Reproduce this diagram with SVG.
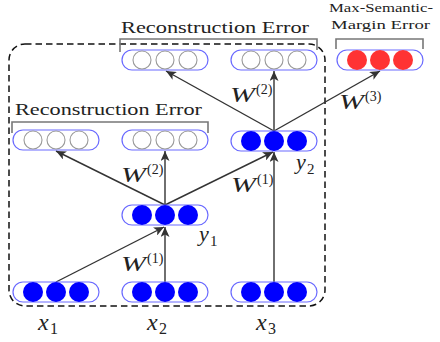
<svg xmlns="http://www.w3.org/2000/svg" width="440" height="342" viewBox="0 0 440 342">
<style>
.cap{fill:#fff;stroke:#6a6aff;stroke-width:1.2}
.on{fill:#0000ff}
.off{fill:#fff;stroke:#999;stroke-width:1.1}
.red{fill:#ff3333}
.br{fill:none;stroke:#777;stroke-width:1.6}
.cn line{stroke:#333;stroke-width:1.4;marker-end:url(#ah)}
</style>
<defs>
<marker id="ah" markerUnits="userSpaceOnUse" markerWidth="11" markerHeight="9" refX="10" refY="4.5" orient="auto">
<path d="M0,0 L10,4.5 L0,9 L2.5,4.5 z" fill="#333"/>
</marker>
</defs>
<rect x="9" y="44" width="316" height="262" rx="16" fill="none" stroke="#111" stroke-width="1.5" stroke-dasharray="6.5 4"/>
<g id="connectors" class="cn">
<line x1="56" y1="282" x2="164" y2="227"/>
<line x1="165" y1="282" x2="165" y2="227"/>
<line x1="165" y1="205" x2="56" y2="151"/>
<line x1="165" y1="205" x2="165" y2="151"/>
<line x1="165" y1="205" x2="273" y2="152"/>
<line x1="274" y1="282" x2="274" y2="152"/>
<line x1="274" y1="131" x2="166" y2="71"/>
<line x1="274" y1="131" x2="274" y2="71"/>
<line x1="274" y1="131" x2="380" y2="71"/>
</g>
<g font-family="Liberation Serif, serif" fill="#222" font-weight="normal">
<g id="brackets">
<path class="br" d="M120,52 V39 H317 V50"/>
<path class="br" d="M12,133 V122 H208 V133"/>
<path class="br" d="M336,49 V39 H423 V49"/>
<text x="121" y="33" font-size="17" textLength="188" lengthAdjust="spacingAndGlyphs">Reconstruction Error</text>
<text x="15" y="115" font-size="17" textLength="187" lengthAdjust="spacingAndGlyphs">Reconstruction Error</text>
<text x="329" y="12" font-size="13" textLength="104" lengthAdjust="spacingAndGlyphs">Max-Semantic-</text>
<text x="331" y="29" font-size="13" textLength="99" lengthAdjust="spacingAndGlyphs">Margin Error</text>
</g>
<g id="x1"><rect class="cap" x="13" y="282" width="86" height="20" rx="10"/><circle class="on" cx="33" cy="292" r="10"/><circle class="on" cx="56" cy="292" r="10"/><circle class="on" cx="79" cy="292" r="10"/>
<text font-style="italic" x="38" y="330" font-size="24">x</text><text x="50" y="334" font-size="16">1</text></g>
<g id="x2"><rect class="cap" x="122" y="282" width="86" height="20" rx="10"/><circle class="on" cx="142" cy="292" r="10"/><circle class="on" cx="165" cy="292" r="10"/><circle class="on" cx="188" cy="292" r="10"/>
<text font-style="italic" x="147" y="330" font-size="24">x</text><text x="159" y="334" font-size="16">2</text></g>
<g id="x3"><rect class="cap" x="231" y="282" width="86" height="20" rx="10"/><circle class="on" cx="251" cy="292" r="10"/><circle class="on" cx="274" cy="292" r="10"/><circle class="on" cx="297" cy="292" r="10"/>
<text font-style="italic" x="256" y="330" font-size="24">x</text><text x="268" y="334" font-size="16">3</text></g>
<g id="y1"><rect class="cap" x="122" y="205" width="86" height="20" rx="10"/><circle class="on" cx="142" cy="215" r="10"/><circle class="on" cx="165" cy="215" r="10"/><circle class="on" cx="188" cy="215" r="10"/>
<text font-style="italic" x="199" y="241" font-size="22">y</text><text x="210" y="246" font-size="15">1</text></g>
<g id="y2"><rect class="cap" x="231" y="131" width="86" height="20" rx="10"/><circle class="on" cx="251" cy="141" r="10"/><circle class="on" cx="274" cy="141" r="10"/><circle class="on" cx="297" cy="141" r="10"/>
<text font-style="italic" x="296" y="169" font-size="22">y</text><text x="307" y="174" font-size="15">2</text></g>
<g id="rec1"><rect class="cap" x="13" y="130" width="86" height="20" rx="10"/><circle class="off" cx="33" cy="140" r="9"/><circle class="off" cx="56" cy="140" r="9"/><circle class="off" cx="79" cy="140" r="9"/></g>
<g id="rec2"><rect class="cap" x="122" y="130" width="86" height="20" rx="10"/><circle class="off" cx="142" cy="140" r="9"/><circle class="off" cx="165" cy="140" r="9"/><circle class="off" cx="188" cy="140" r="9"/></g>
<g id="rec3"><rect class="cap" x="122" y="50" width="86" height="20" rx="10"/><circle class="off" cx="142" cy="60" r="9"/><circle class="off" cx="165" cy="60" r="9"/><circle class="off" cx="188" cy="60" r="9"/></g>
<g id="rec4"><rect class="cap" x="231" y="50" width="86" height="20" rx="10"/><circle class="off" cx="251" cy="60" r="9"/><circle class="off" cx="274" cy="60" r="9"/><circle class="off" cx="297" cy="60" r="9"/></g>
<g id="msm"><rect class="cap" x="337" y="50" width="86" height="20" rx="10"/><circle class="red" cx="357" cy="60" r="10"/><circle class="red" cx="380" cy="60" r="10"/><circle class="red" cx="403" cy="60" r="10"/></g>
<g id="weights">
<text font-style="italic" x="121" y="271" font-size="21" textLength="25" lengthAdjust="spacingAndGlyphs">W</text><text x="147" y="263" font-size="14">(1)</text>
<text font-style="italic" x="121" y="182" font-size="21" textLength="25" lengthAdjust="spacingAndGlyphs">W</text><text x="147" y="174" font-size="14">(2)</text>
<text font-style="italic" x="231" y="192" font-size="21" textLength="25" lengthAdjust="spacingAndGlyphs">W</text><text x="257" y="184" font-size="14">(1)</text>
<text font-style="italic" x="230" y="102" font-size="21" textLength="25" lengthAdjust="spacingAndGlyphs">W</text><text x="256" y="94" font-size="14">(2)</text>
<text font-style="italic" x="339" y="109" font-size="21" textLength="25" lengthAdjust="spacingAndGlyphs">W</text><text x="365" y="101" font-size="14">(3)</text>
</g>
</g>
</svg>
